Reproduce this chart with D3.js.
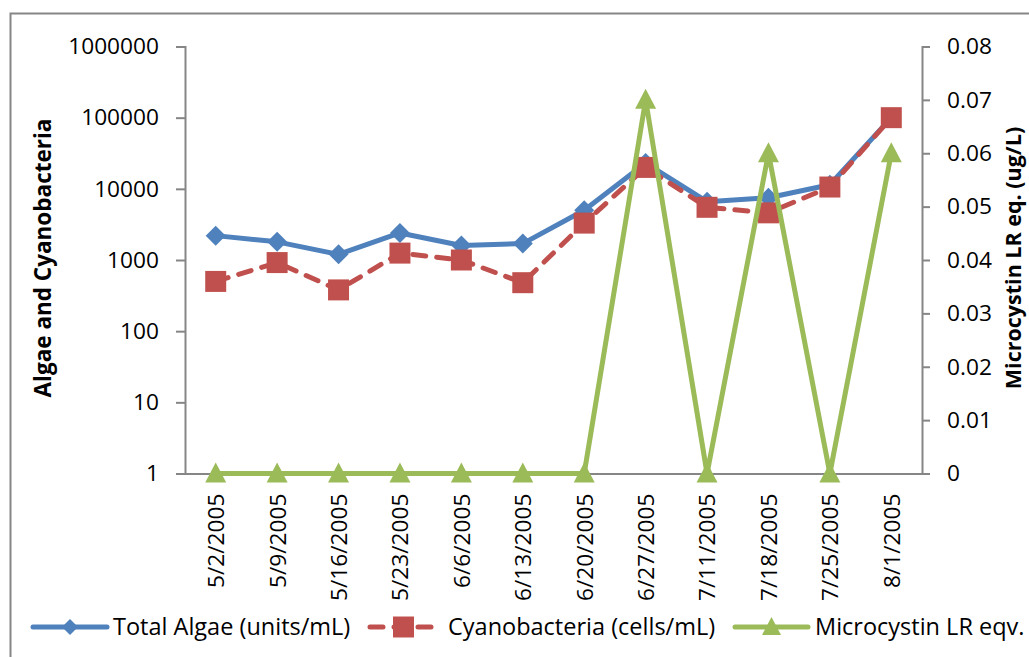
<!DOCTYPE html>
<html>
<head>
<meta charset="utf-8">
<script src="https://cdn.jsdelivr.net/npm/d3@7"></script>
<style>
body {margin:0; background:#fff;}
svg {display:block;}
text {font-family:"Open Sans", sans-serif; fill:#000;}
</style>
</head>
<body>
<svg id=holder></svg>
<script>
// sample dates (category axis)
var dates=['5/2/2005','5/9/2005','5/16/2005','5/23/2005','6/6/2005','6/13/2005',
    '6/20/2005','6/27/2005','7/11/2005','7/18/2005','7/25/2005','8/1/2005'];
// left axis, log scale
var total_algae=[2200,1800,1200,2400,1600,1700,5000,23000,6600,7500,11400,100000];
var cyanobacteria=[500,920,380,1250,1000,480,3300,20000,5500,4600,10600,100000];
// right axis
var microcystin=[0,0,0,0,0,0,0,0.07,0,0.06,0,0.06];
var left_ticks=[1,10,100,1000,10000,100000,1000000];
var right_ticks=[0,0.01,0.02,0.03,0.04,0.05,0.06,0.07,0.08];
var legend_names=['Total Algae (units/mL)','Cyanobacteria (cells/mL)','Microcystin LR eqv.'];
var left_title='Algae and Cyanobacteria';
var right_title='Microcystin LR eq. (ug/L)';

var W=1029, H=657;
var axis_color='#868686';
var blue='#4F81BD', red='#C0504D', green='#9BBB59';
var fs=22.7;

var svg=d3.select('#holder').attr('width',W).attr('height',H);

// outer chart border (runs off right/bottom edges)
svg.append('rect')
    .attr('x',10.5).attr('y',13.5)
    .attr('width',1200).attr('height',900)
    .attr('fill','none').attr('stroke',axis_color).attr('stroke-width',2);

var plot_left=185, plot_right=922, plot_top=46.5, plot_bottom=473.5;

var xscale=d3.scalePoint().domain(dates).range([plot_left,plot_right]).padding(0.5);
var yleft=d3.scaleLog().domain([1,1000000]).range([plot_bottom,plot_top]);
var yright=d3.scaleLinear().domain([0,0.08]).range([plot_bottom,plot_top]);

var gg=svg.append('g');

// left axis
var left_axis=d3.axisLeft(yleft).tickValues(left_ticks).tickFormat(d3.format('d')).tickSize(9).tickPadding(17);
gg.append('g').attr('class','axis')
    .attr('transform','translate('+plot_left+',0)')
    .call(left_axis);

// right axis
var right_axis=d3.axisRight(yright).tickValues(right_ticks).tickFormat(function(d) {return d===0?'0':d3.format('.2f')(d);}).tickSize(8).tickPadding(17);
gg.append('g').attr('class','axis')
    .attr('transform','translate('+plot_right+',0)')
    .call(right_axis);

// category axis (no tick marks)
var x_axis=d3.axisBottom(xscale).tickSize(0).tickPadding(0);
var X=gg.append('g').attr('class','axis xaxis')
    .attr('transform','translate(0,'+plot_bottom+')')
    .call(x_axis);
X.selectAll('text')
    .attr('transform','rotate(-90)')
    .attr('x',-20).attr('y',0).attr('dy','0.35em')
    .style('text-anchor','end');

svg.selectAll('.axis path, .axis line').attr('stroke',axis_color).attr('stroke-width',2);
svg.selectAll('.axis path').attr('fill','none');
svg.selectAll('.axis text').attr('fill','#000').style('font-size',fs+'px').style('font-family','"Open Sans", sans-serif');

// axis titles
svg.append('text')
    .attr('transform','translate(51,258) rotate(-90)')
    .style('text-anchor','middle').style('font-weight','bold').style('font-size','22.5px')
    .text(left_title);
svg.append('text')
    .attr('transform','translate(1021,258) rotate(-90)')
    .style('text-anchor','middle').style('font-weight','bold').style('font-size','21.5px')
    .text(right_title);

// series
var line_left=d3.line()
    .x(function(d,i) {return xscale(dates[i]);})
    .y(function(d) {return yleft(d);});
var line_right=d3.line()
    .x(function(d,i) {return xscale(dates[i]);})
    .y(function(d) {return yright(d);});

function marker_path(type,s) {
    var h=s/2;
    if (type=='diamond') return 'M0,'+(-h)+'L'+h+',0L0,'+h+'L'+(-h)+',0Z';
    if (type=='square') return 'M'+(-h)+','+(-h)+'h'+s+'v'+s+'h'+(-s)+'Z';
    return 'M0,'+(-h*1.05)+'L'+h+','+(h*0.85)+'L'+(-h)+','+(h*0.85)+'Z';
}
function add_series(values,line,color,type,size,dash) {
    var g=gg.append('g');
    g.append('path')
        .attr('d',line(values))
        .attr('fill','none').attr('stroke',color).attr('stroke-width',5)
        .attr('stroke-linejoin','round').attr('stroke-linecap','round')
        .attr('stroke-dasharray',dash||null);
    g.selectAll('path.mk').data(values).enter().append('path')
        .attr('class','mk')
        .attr('d',marker_path(type,size))
        .attr('transform',function(d,i) {return 'translate('+xscale(dates[i])+','+line.y()(d)+')';})
        .attr('fill',color);
}
add_series(total_algae,line_left,blue,'diamond',20);
add_series(cyanobacteria,line_left,red,'square',21,'13,11');
add_series(microcystin,line_right,green,'triangle',21);

// legend
var legend_y=627;
var legend_items=[
    {name:legend_names[0],color:blue,type:'diamond',x0:33,x1:107,size:16,dash:null,tx:113},
    {name:legend_names[1],color:red,type:'square',x0:370,x1:437,size:21,dash:'13,11',tx:448},
    {name:legend_names[2],color:green,type:'triangle',x0:735,x1:808,size:19,dash:null,tx:815}
];
var L=svg.append('g');
legend_items.forEach(function(it) {
    L.append('line')
        .attr('x1',it.x0).attr('x2',it.x1).attr('y1',legend_y).attr('y2',legend_y)
        .attr('stroke',it.color).attr('stroke-width',5).attr('stroke-linecap','round')
        .attr('stroke-dasharray',it.dash);
    L.append('path')
        .attr('d',marker_path(it.type,it.size))
        .attr('transform','translate('+((it.x0+it.x1)/2)+','+legend_y+')')
        .attr('fill',it.color);
    L.append('text')
        .attr('x',it.tx).attr('y',legend_y).attr('dy','0.35em')
        .style('font-size','23.5px')
        .text(it.name);
});
</script>
</body>
</html>
